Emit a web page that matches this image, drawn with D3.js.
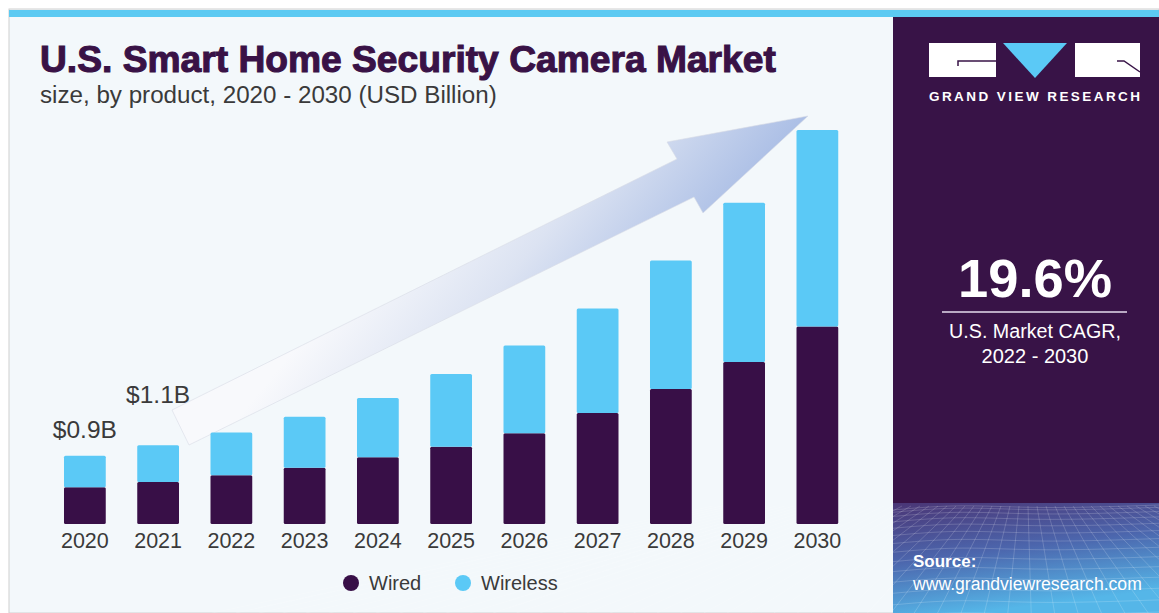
<!DOCTYPE html>
<html>
<head>
<meta charset="utf-8">
<script src="https://cdn.jsdelivr.net/npm/d3@7"></script>
<style>
  body { margin: 0; background: #fff; }
  text { font-family: "Liberation Sans", Arial, sans-serif; }
</style>
</head>
<body>
<svg id="chart" width="1159" height="613"></svg>
<script>
// data (USD Billion)
const years = ["2020", "2021", "2022", "2023", "2024", "2025", "2026", "2027", "2028", "2029", "2030"];
const wired = [0.49, 0.56, 0.65, 0.75, 0.89, 1.03, 1.21, 1.48, 1.80, 2.16, 2.63];
const wireless = [0.42, 0.49, 0.57, 0.68, 0.79, 0.97, 1.17, 1.39, 1.71, 2.12, 2.62];
const callouts = [{ year: "2020", label: "$0.9B" }, { year: "2021", label: "$1.1B" }];
const seriesNames = ["Wired", "Wireless"];
const colors = { Wired: "#380f47", Wireless: "#5bc9f6" };

const svg = d3.select("#chart");
const defs = svg.append("defs");

// scale a text's font size so it spans the given width
const fitWidth = (sel, size, width) => {
    sel.attr("font-size", size);
    const w = sel.node().getComputedTextLength();
    sel.attr("font-size", size * width / w);
    return sel;
};

// panel backgrounds
svg.append("rect").attr("x", 9).attr("y", 9).attr("width", 1150).attr("height", 604)
    .attr("fill", "#f3f8fb").attr("stroke", "#d0d0d0").attr("stroke-width", 1);
svg.append("rect").attr("x", 9).attr("y", 10).attr("width", 1150).attr("height", 7).attr("fill", "#5ccaf2");

// right purple panel
svg.append("rect").attr("x", 893).attr("y", 17).attr("width", 266).attr("height", 596).attr("fill", "#381347");

const meshGrad = defs.append("linearGradient").attr("id", "meshGrad")
    .attr("x1", 0).attr("y1", 0).attr("x2", 0.3).attr("y2", 1);
meshGrad.append("stop").attr("offset", 0).attr("stop-color", "#4a3575");
meshGrad.append("stop").attr("offset", 0.5).attr("stop-color", "#4c66ad");
meshGrad.append("stop").attr("offset", 1).attr("stop-color", "#55b6e8");
svg.append("rect").attr("x", 893).attr("y", 503).attr("width", 266).attr("height", 110).attr("fill", "url(#meshGrad)");

// perspective mesh
const mesh = svg.append("g").attr("stroke", "#ffffff").attr("stroke-opacity", 0.22).attr("fill", "none").attr("stroke-width", 0.8);
d3.range(0, 14).forEach(i => {
    const t = i / 13;
    const yy = 506 + 107 * Math.pow(t, 1.5);
    mesh.append("path").attr("d", d3.line().curve(d3.curveBasis)([[893, yy + 4], [960, yy - 2], [1040, yy + 3], [1159, yy - 1]]));
});
d3.range(-20, 40).forEach(i => {
    const xTop = 893 + i * 9;
    const xBot = 1026 + (xTop - 1026) * 2.6;
    mesh.append("line").attr("x1", xTop).attr("y1", 506).attr("x2", xBot).attr("y2", 613);
});

// scales
const x = d3.scaleBand().domain(years).range([48.25, 854]).paddingInner(0.43).paddingOuter(0.215);
const y = d3.scaleLinear().domain([0, 5.25]).range([524, 130]);

// arrow
const arrowGrad = defs.append("linearGradient").attr("id", "arrowGrad")
    .attr("gradientUnits", "userSpaceOnUse")
    .attr("x1", 350).attr("y1", 280).attr("x2", 560).attr("y2", 450);
arrowGrad.append("stop").attr("offset", 0).attr("stop-color", "#f8f9fc");
arrowGrad.append("stop").attr("offset", 0.45).attr("stop-color", "#dce3f2");
arrowGrad.append("stop").attr("offset", 1).attr("stop-color", "#a5bae4");
svg.append("path")
    .attr("d", d3.line()([[172, 410], [677, 159], [667, 142], [808, 116], [703, 213], [694, 197], [189, 445]]) + "Z")
    .attr("fill", "url(#arrowGrad)")
    .attr("stroke", "#d8dce6").attr("stroke-width", 0.6);

// stacked bars
const rows = years.map((yr, i) => ({ year: yr, Wired: wired[i], Wireless: wireless[i] }));
const stacked = d3.stack().keys(seriesNames)(rows);
svg.append("g").selectAll("g")
    .data(stacked)
    .join("g")
    .attr("fill", d => colors[d.key])
    .selectAll("rect")
    .data(d => d)
    .join("rect")
    .attr("x", d => x(d.data.year))
    .attr("y", d => y(d[1]))
    .attr("width", x.bandwidth())
    .attr("height", d => y(d[0]) - y(d[1]))
    .attr("rx", 1.5);

// x axis labels
const xAxis = svg.append("g")
    .attr("transform", "translate(0,524)")
    .call(d3.axisBottom(x).tickSize(0).tickPadding(9));
xAxis.select(".domain").remove();
xAxis.selectAll("text")
    .attr("font-family", "Liberation Sans, Arial, sans-serif")
    .attr("font-size", 21.5).attr("fill", "#3a3a3a");

// value callouts
svg.selectAll(".callout")
    .data(callouts)
    .join("text")
    .attr("class", "callout")
    .attr("x", d => x(d.year) + x.bandwidth() / 2)
    .attr("y", (d, i) => i === 0 ? 438 : 403)
    .attr("text-anchor", "middle")
    .attr("font-size", 24.5).attr("fill", "#3a3a3a")
    .text(d => d.label);

// title
const title = svg.append("text").attr("x", 40).attr("y", 72)
    .attr("font-weight", "bold").attr("fill", "#391246")
    .attr("stroke", "#391246").attr("stroke-width", 1.1)
    .text("U.S. Smart Home Security Camera Market");
fitWidth(title, 32, 736);
fitWidth(svg.append("text").attr("x", 40).attr("y", 103)
    .attr("fill", "#3a3a3a")
    .text("size, by product, 2020 - 2030 (USD Billion)"), 22, 457);

// legend
const legend = svg.append("g").selectAll("g")
    .data(seriesNames)
    .join("g")
    .attr("transform", (d, i) => `translate(${[351, 463][i]},583)`);
legend.append("circle").attr("r", 8).attr("fill", d => colors[d]);
legend.append("text").attr("x", 18).attr("y", 7)
    .attr("font-size", 20).attr("fill", "#3a3a3a").text(d => d);

// logo
const logo = svg.append("g");
logo.append("rect").attr("x", 929).attr("y", 43).attr("width", 67).attr("height", 34).attr("fill", "#fff");
logo.append("path").attr("d", "M958,66 L958,61 L996,61").attr("stroke", "#381347").attr("stroke-width", 1.5).attr("fill", "none");
logo.append("path").attr("d", "M1003,43 L1067,43 L1035,78 Z").attr("fill", "#5bc9f6");
logo.append("rect").attr("x", 1075).attr("y", 43).attr("width", 65).attr("height", 34).attr("fill", "#fff");
logo.append("path").attr("d", "M1117,61 L1124,61 L1140,72").attr("stroke", "#381347").attr("stroke-width", 1.5).attr("fill", "none");
logo.append("text").attr("x", 1034.5).attr("y", 101).attr("text-anchor", "middle")
    .attr("font-size", 13.5).attr("font-weight", "bold").attr("fill", "#fff")
    .attr("textLength", 211).attr("lengthAdjust", "spacing")
    .text("GRAND VIEW RESEARCH");

// CAGR block
fitWidth(svg.append("text").attr("x", 1035).attr("y", 297).attr("text-anchor", "middle")
    .attr("font-weight", "bold").attr("fill", "#fff").text("19.6%"), 50, 154);
svg.append("line").attr("x1", 942).attr("x2", 1127).attr("y1", 312).attr("y2", 312)
    .attr("stroke", "#b9a9c3").attr("stroke-width", 2);
fitWidth(svg.append("text").attr("x", 1035).attr("y", 338).attr("text-anchor", "middle")
    .attr("fill", "#fff").text("U.S. Market CAGR,"), 18, 172);
svg.append("text").attr("x", 1035).attr("y", 363).attr("text-anchor", "middle")
    .attr("font-size", 20).attr("fill", "#fff").text("2022 - 2030");

// source
svg.append("text").attr("x", 913).attr("y", 567)
    .attr("font-size", 17).attr("font-weight", "bold").attr("fill", "#fff").text("Source:");
fitWidth(svg.append("text").attr("x", 913).attr("y", 590)
    .attr("fill", "#fff").text("www.grandviewresearch.com"), 17, 229);
</script>
</body>
</html>
